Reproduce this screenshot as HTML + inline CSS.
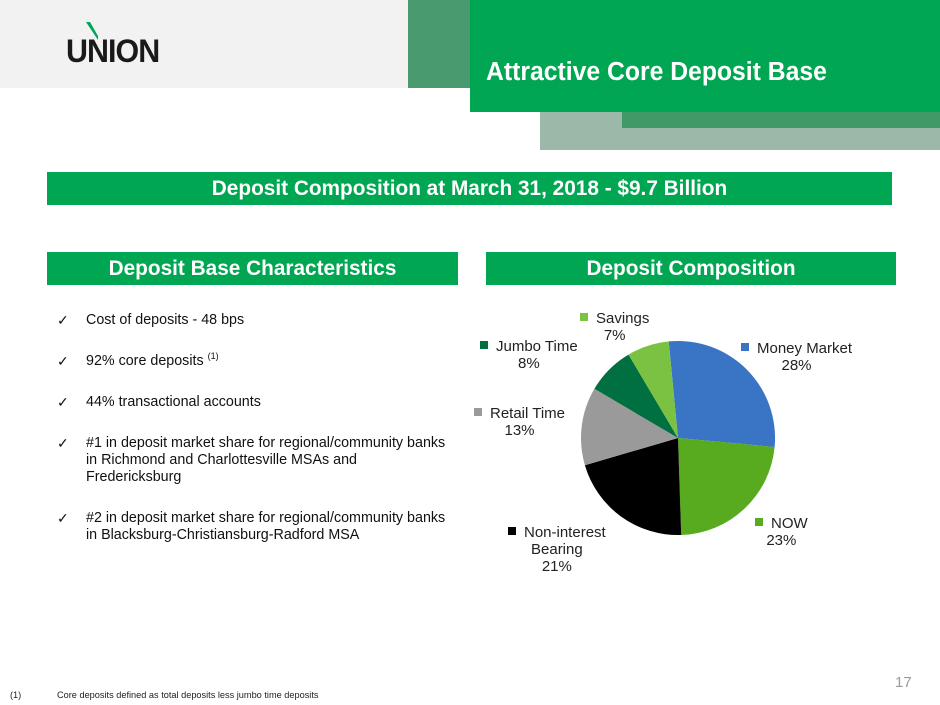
<!DOCTYPE html>
<html><head><meta charset="utf-8"><style>
body{margin:0;width:940px;height:705px;position:relative;background:#fff;font-family:"Liberation Sans",sans-serif;overflow:hidden}
.a{position:absolute}
.bar{position:absolute;background:#00a651;color:#fff;font-weight:bold;font-size:20.8px;text-align:center;line-height:33px;height:33px}
.li{position:absolute;left:86px;font-size:14.3px;color:#111;line-height:17px}
.li:before{content:"✓";position:absolute;left:-29px;font-size:14px}
.pl{position:absolute;font-size:15px;color:#222;text-align:center;line-height:17px}
.sq{display:inline-block;width:8px;height:8px;margin-right:8px;vertical-align:2px}
</style></head><body>
<div class="a" style="left:0;top:0;width:410px;height:88px;background:#f2f2f2"></div>
<div class="a" style="left:408px;top:0;width:70px;height:88px;background:#4a9a70"></div>
<div class="a" style="left:540px;top:112px;width:400px;height:38px;background:#9bb8a8"></div>
<div class="a" style="left:622px;top:112px;width:318px;height:16px;background:#3f9a68"></div>
<div class="a" style="left:470px;top:0;width:470px;height:112px;background:#00a651"></div>
<div class="a" style="left:486px;top:58px;color:#fff;font-weight:bold;font-size:25.5px;transform:scaleX(0.97);transform-origin:left">Attractive Core Deposit Base</div>
<div class="a" style="left:66px;top:33px;font-size:32px;font-weight:bold;color:#1a1a1a;letter-spacing:-1px;transform:scaleX(0.95);transform-origin:left">UNION</div>
<svg class="a" style="left:86px;top:22px" width="12" height="20"><path d="M0 0 L4 0 L12 14 L12 18 Z" fill="#00a651"/></svg>
<div class="bar" style="left:47px;top:172px;width:845px">Deposit Composition at March 31, 2018 - $9.7 Billion</div>
<div class="bar" style="left:47px;top:252px;width:411px">Deposit Base Characteristics</div>
<div class="bar" style="left:486px;top:252px;width:410px">Deposit Composition</div>
<div class="li" style="top:312px">Cost of deposits - 48 bps</div>
<div class="li" style="top:353px">92% core deposits <span style="font-size:9px;position:relative;top:-6px">(1)</span></div>
<div class="li" style="top:394px">44% transactional accounts</div>
<div class="li" style="top:435px">#1 in deposit market share for regional/community banks<br>in Richmond and Charlottesville MSAs and<br>Fredericksburg</div>
<div class="li" style="top:510px">#2 in deposit market share for regional/community banks<br>in Blacksburg-Christiansburg-Radford MSA</div>
<svg class="a" style="left:0;top:0" width="940" height="705">
<path d="M678 438 L668.7 341.4 A97 97 0 0 1 774.6 447 Z" fill="#3a74c4"/>
<path d="M678 438 L774.6 447 A97 97 0 0 1 681.2 535 Z" fill="#58aa1e"/>
<path d="M678 438 L681.2 535 A97 97 0 0 1 584.9 465.2 Z" fill="#000"/>
<path d="M678 438 L584.9 465.2 A97 97 0 0 1 594.4 388.8 Z" fill="#9a9a9a"/>
<path d="M678 438 L594.4 388.8 A97 97 0 0 1 628.5 354.6 Z" fill="#007040"/>
<path d="M678 438 L628.5 354.6 A97 97 0 0 1 668.7 341.4 Z" fill="#7cc242"/>
</svg>
<div class="pl" style="left:580px;top:310px"><span class="sq" style="background:#7cc242"></span>Savings<br>7%</div>
<div class="pl" style="left:480px;top:338px"><span class="sq" style="background:#007040"></span>Jumbo Time<br>8%</div>
<div class="pl" style="left:741px;top:340px"><span class="sq" style="background:#3a74c4"></span>Money Market<br>28%</div>
<div class="pl" style="left:474px;top:405px"><span class="sq" style="background:#9a9a9a"></span>Retail Time<br>13%</div>
<div class="pl" style="left:755px;top:515px"><span class="sq" style="background:#58aa1e"></span>NOW<br>23%</div>
<div class="pl" style="left:508px;top:524px"><span class="sq" style="background:#000"></span>Non-interest<br>Bearing<br>21%</div>
<div class="a" style="left:895px;top:674px;font-size:15px;color:#999">17</div>
<div class="a" style="left:10px;top:690px;font-size:9.2px;color:#222">(1)</div>
<div class="a" style="left:57px;top:690px;font-size:9.2px;color:#222">Core deposits defined as total deposits less jumbo time deposits</div>
</body></html>
